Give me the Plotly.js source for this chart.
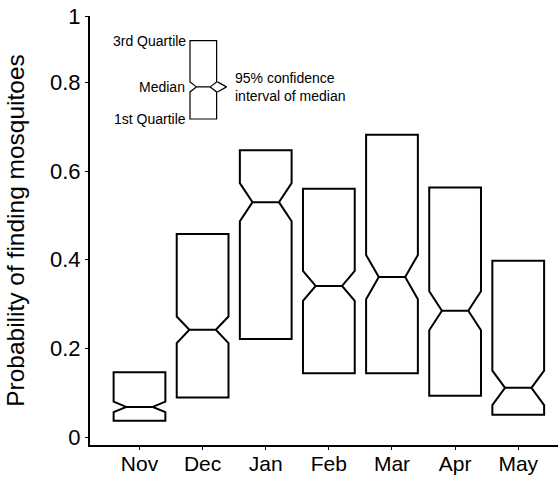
<!DOCTYPE html>
<html>
<head>
<meta charset="utf-8">
<script src="https://cdn.plot.ly/plotly-3.0.1.min.js"></script>
<style>html,body{margin:0;padding:0;background:#fff;}#chart{width:558px;height:478px;}</style>
</head>
<body>
<div id="chart"></div>
<script>
// Monthly boxes (probability of finding mosquitoes)
var months = ['Nov', 'Dec', 'Jan', 'Feb', 'Mar', 'Apr', 'May'];
var q1Vals = [0.037, 0.089, 0.221, 0.144, 0.144, 0.093, 0.050];
var medianVals = [0.068, 0.242, 0.530, 0.341, 0.361, 0.285, 0.111];
var q3Vals = [0.146, 0.458, 0.647, 0.560, 0.682, 0.563, 0.398];
var notchVals = [0.012, 0.030, 0.043, 0.034, 0.050, 0.044, 0.039];

// y tick labels
var yTickVals = [0, 0.2, 0.4, 0.6, 0.8, 0.95];
var yTickText = ['0', '0.2', '0.4', '0.6', '0.8', '1'];

// Legend key (schematic box)
var keyQ1 = [0];
var keyMedian = [0.41];
var keyQ3 = [1];
var keyNotch = [0.064];
var keyBracketX = [0.42, 0.69, 0.42];
var keyBracketY = [0.474, 0.41, 0.346];
var keyLabels = ['3rd Quartile', 'Median', '1st Quartile', '95% confidence<br>interval of median'];

var font = 'Liberation Sans, Arial, Helvetica, sans-serif';

var traces = [
  {
    type: 'box',
    x: months,
    q1: q1Vals,
    median: medianVals,
    q3: q3Vals,
    lowerfence: q1Vals,
    upperfence: q3Vals,
    notchspan: notchVals,
    notched: true,
    notchwidth: 0.245,
    width: 0.82,
    boxpoints: false,
    fillcolor: 'rgba(0,0,0,0)',
    line: {color: '#000', width: 2},
    whiskerwidth: 0,
    hoverinfo: 'skip',
    showlegend: false
  },
  {
    type: 'box',
    x: [0],
    q1: keyQ1,
    median: keyMedian,
    q3: keyQ3,
    lowerfence: keyQ1,
    upperfence: keyQ3,
    notchspan: keyNotch,
    notched: true,
    notchwidth: 0.24,
    width: 0.79,
    boxpoints: false,
    fillcolor: 'rgba(0,0,0,0)',
    line: {color: '#000', width: 1.2},
    whiskerwidth: 0,
    xaxis: 'x2',
    yaxis: 'y2',
    hoverinfo: 'skip',
    showlegend: false
  },
  {
    type: 'scatter',
    mode: 'lines',
    x: keyBracketX,
    y: keyBracketY,
    line: {color: '#000', width: 1.2},
    xaxis: 'x2',
    yaxis: 'y2',
    hoverinfo: 'skip',
    showlegend: false
  }
];

var layout = {
  width: 558,
  height: 478,
  margin: {l: 90, r: 0, t: 16, b: 33},
  paper_bgcolor: '#fff',
  plot_bgcolor: '#fff',
  font: {family: font, color: '#000'},
  showlegend: false,
  xaxis: {
    type: 'category',
    range: [-0.784, 6.63],
    showgrid: false,
    zeroline: false,
    showline: true,
    linecolor: '#000',
    linewidth: 2,
    ticks: 'outside',
    ticklen: 3,
    tickwidth: 1,
    tickcolor: '#000',
    ticklabelstandoff: -4,
    tickfont: {family: font, size: 21, color: '#000'},
    fixedrange: true
  },
  yaxis: {
    range: [-0.018, 0.95],
    tickmode: 'array',
    tickvals: yTickVals,
    ticktext: yTickText,
    showgrid: false,
    zeroline: false,
    showline: true,
    linecolor: '#000',
    linewidth: 2,
    ticks: 'outside',
    ticklen: 3,
    tickwidth: 1,
    tickcolor: '#000',
    tickfont: {family: font, size: 22, color: '#000'},
    title: {text: 'Probability of finding mosquitoes', font: {family: font, size: 24.5, color: '#000'}, standoff: 18},
    fixedrange: true
  },
  xaxis2: {
    domain: [0.1701, 0.3141],
    range: [-1, 1],
    anchor: 'y2',
    visible: false,
    fixedrange: true
  },
  yaxis2: {
    domain: [0.72, 0.98],
    range: [-0.2187, 1.206],
    anchor: 'x2',
    visible: false,
    fixedrange: true
  },
  annotations: [
    {xref: 'x2', yref: 'y2', x: -0.45, y: keyQ3[0], text: keyLabels[0], showarrow: false, xanchor: 'right', yanchor: 'middle', font: {family: font, size: 14, color: '#000'}},
    {xref: 'x2', yref: 'y2', x: -0.49, y: keyMedian[0], text: keyLabels[1], showarrow: false, xanchor: 'right', yanchor: 'middle', font: {family: font, size: 14, color: '#000'}},
    {xref: 'x2', yref: 'y2', x: -0.45, y: keyQ1[0], text: keyLabels[2], showarrow: false, xanchor: 'right', yanchor: 'middle', font: {family: font, size: 14, color: '#000'}},
    {xref: 'x2', yref: 'y2', x: 0.88, y: keyMedian[0], text: keyLabels[3], showarrow: false, xanchor: 'left', yanchor: 'middle', align: 'left', font: {family: font, size: 14, color: '#000'}}
  ]
};

Plotly.newPlot('chart', traces, layout, {displayModeBar: false, staticPlot: true});
</script>
</body>
</html>
